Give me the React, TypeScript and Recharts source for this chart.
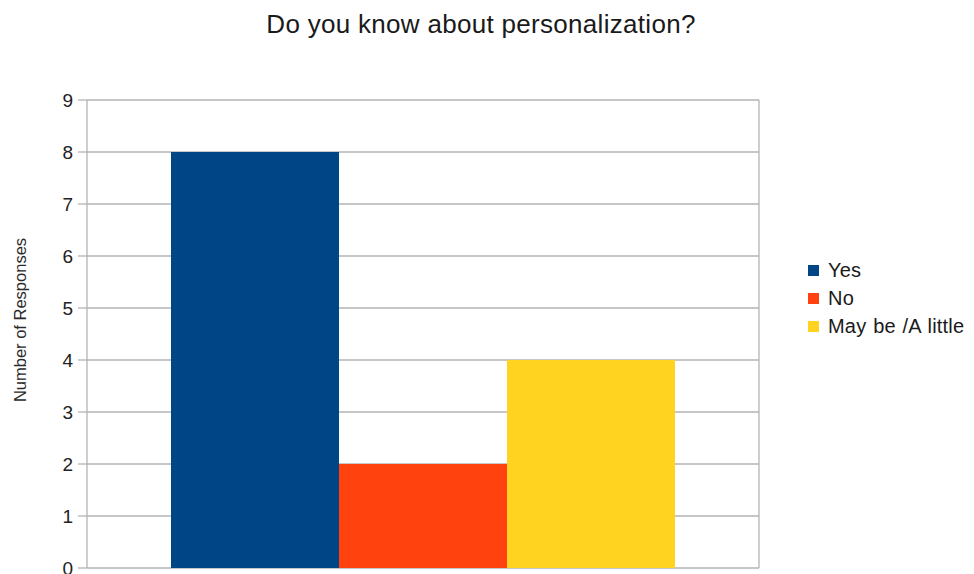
import { BarChart, Bar, XAxis, YAxis, CartesianGrid } from "recharts";

const TITLE = "Do you know about personalization?";
const Y_LABEL = "Number of Responses";

const SERIES_KEYS = ["yes", "no", "maybe"];
const SERIES_NAMES = ["Yes", "No", "May be /A little"];
const SERIES_VALUES = [8, 2, 4];
const SERIES_COLORS = ["#004586", "#ff420e", "#ffd320"];
const Y_TICKS = [0, 1, 2, 3, 4, 5, 6, 7, 8, 9];

const GRID = "#b3b3b3";
const FONT = '"Liberation Sans", Arial, sans-serif';

export default function App() {
    const row: Record<string, string | number> = { name: "" };
    SERIES_KEYS.forEach((k, i) => { row[k] = SERIES_VALUES[i]; });
    const data = [row];

    return (
        <div style={{ position: "absolute", left: 0, top: 0, width: 974, height: 574, background: "#fff", fontFamily: FONT, overflow: "hidden" }}>
            <div style={{ position: "absolute", left: 0, top: 11, width: 962, textAlign: "center", fontSize: 26, lineHeight: "26px", color: "#1a1a1a", letterSpacing: 0.3, whiteSpace: "nowrap" }}>
                {TITLE}
            </div>

            <div style={{ position: "absolute", left: 20, top: 320, transform: "translate(-50%, -50%) rotate(-90deg)", fontSize: 16.5, lineHeight: "17px", color: "#2a2a2a", whiteSpace: "nowrap" }}>
                {Y_LABEL}
            </div>

            <BarChart
                width={974}
                height={574}
                data={data}
                margin={{ top: 100, right: 214, bottom: 6, left: 0 }}
                barCategoryGap="12.5%"
                barGap={0}
            >
                <CartesianGrid vertical={false} stroke={GRID} strokeWidth={1.3} />
                <XAxis dataKey="name" hide />
                <YAxis
                    domain={[0, 9]}
                    ticks={Y_TICKS}
                    interval={0}
                    width={87}
                    tickSize={9}
                    tickMargin={5}
                    axisLine={{ stroke: GRID, strokeWidth: 1.3 }}
                    tickLine={{ stroke: GRID, strokeWidth: 1.3 }}
                    tick={{ fill: "#222", fontSize: 19, fontFamily: FONT }}
                />
                <YAxis
                    yAxisId="frame"
                    orientation="right"
                    domain={[0, 9]}
                    width={1}
                    tick={false}
                    tickLine={false}
                    axisLine={{ stroke: GRID, strokeWidth: 1.3 }}
                />
                {SERIES_KEYS.map((k, i) => (
                    <Bar key={k} dataKey={k} name={SERIES_NAMES[i]} fill={SERIES_COLORS[i]} isAnimationActive={false} />
                ))}
            </BarChart>

            <div style={{ position: "absolute", left: 808, top: 256, color: "#1a1a1a", fontSize: 20, letterSpacing: 0.2, wordSpacing: 1 }}>
                {SERIES_NAMES.map((n, i) => (
                    <div key={n} style={{ display: "flex", alignItems: "center", height: 28, whiteSpace: "nowrap" }}>
                        <span style={{ width: 11, height: 11, background: SERIES_COLORS[i], display: "inline-block", marginRight: 9 }} />
                        <span>{n}</span>
                    </div>
                ))}
            </div>
        </div>
    );
}
